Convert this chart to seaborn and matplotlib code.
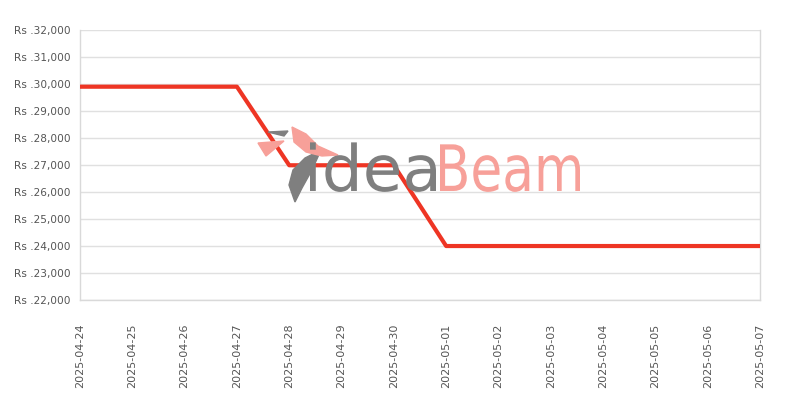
import matplotlib
matplotlib.use("Agg")
import matplotlib.pyplot as plt
import matplotlib.ticker as mticker
from matplotlib.font_manager import FontProperties
from matplotlib.patches import PathPatch, Polygon
from matplotlib.textpath import TextPath
from matplotlib.transforms import Affine2D, IdentityTransform
import pandas as pd
import seaborn as sns

dates = ["2025-04-24", "2025-04-25", "2025-04-26", "2025-04-27", "2025-04-28",
         "2025-04-29", "2025-04-30", "2025-05-01", "2025-05-02", "2025-05-03",
         "2025-05-04", "2025-05-05", "2025-05-06", "2025-05-07"]
prices = [29900, 29900, 29900, 29900, 26990, 26990, 26990,
          23999, 23999, 23999, 23999, 23999, 23999, 23999]

df = pd.DataFrame({"date": pd.to_datetime(dates), "price": prices})

sns.set_theme(style="whitegrid")
plt.rcParams["font.family"] = ["DejaVu Sans"]

fig = plt.figure(figsize=(8, 4), dpi=100)
ax = fig.add_axes([0.10, 0.25, 0.85, 0.675])


def px(x, y):
    # pixel coords (from top-left) -> figure fraction
    return (x / 800, 1 - y / 400)


def shape(points, color):
    fig.patches.append(Polygon([px(x, y) for x, y in points], closed=True, color=color,
                               transform=fig.transFigure, zorder=0))


def word(text, x0, x1, baseline, color):
    # text squeezed to span x0..x1 pixels
    path = TextPath((0, 0), text, size=64, prop=FontProperties(family="DejaVu Sans"))
    ext = path.get_extents()
    sx = (x1 - x0) / ext.width
    tr = Affine2D().translate(-ext.x0, 0).scale(sx, 1).translate(x0, 400 - baseline)
    fig.patches.append(PathPatch(path, color=color, lw=0, zorder=0,
                                 transform=tr + IdentityTransform()))


# watermark logo (rough bird + wordmark)
gray, pink = "#7f7f7f", "#f7a099"
shape([(295, 202), (289, 185), (293, 170), (305, 158), (321, 150), (312, 170), (302, 188)], gray)
shape([(292, 127), (306, 134), (318, 146), (338, 155), (322, 156), (306, 152), (294, 142)], pink)
shape([(258, 143), (284, 141), (266, 156)], pink)
shape([(268, 132), (288, 131), (284, 136)], gray)
word("idea", 310, 436, 191, gray)
word("Beam", 440, 580, 191, pink)

sns.lineplot(data=df, x="date", y="price", ax=ax, color="#ee3524", linewidth=3, zorder=3)

ax.set_xlim(df["date"].iloc[0], df["date"].iloc[-1])
ax.set_ylim(22000, 32000)
ax.set_xticks(df["date"])
ax.set_xticklabels(dates, rotation=90, fontsize=8, color="#555555")
ax.yaxis.set_major_locator(mticker.MultipleLocator(1000))
ax.yaxis.set_major_formatter(mticker.FuncFormatter(lambda v, p: f"Rs .{int(v):,}"))
ax.tick_params(axis="y", labelsize=7.6, labelcolor="#555555", pad=0.5)
ax.tick_params(axis="x", pad=11)
ax.set_xlabel("")
ax.set_ylabel("")
ax.grid(axis="x", visible=False)
ax.grid(axis="y", color="#e0e0e0", linewidth=1)
ax.set_facecolor("none")
for side in ["left", "bottom", "right"]:
    ax.spines[side].set_visible(True)
    ax.spines[side].set_color("#d9d9d9")
    ax.spines[side].set_linewidth(1)
ax.spines["top"].set_visible(False)

fig.savefig("out.png", dpi=100)
